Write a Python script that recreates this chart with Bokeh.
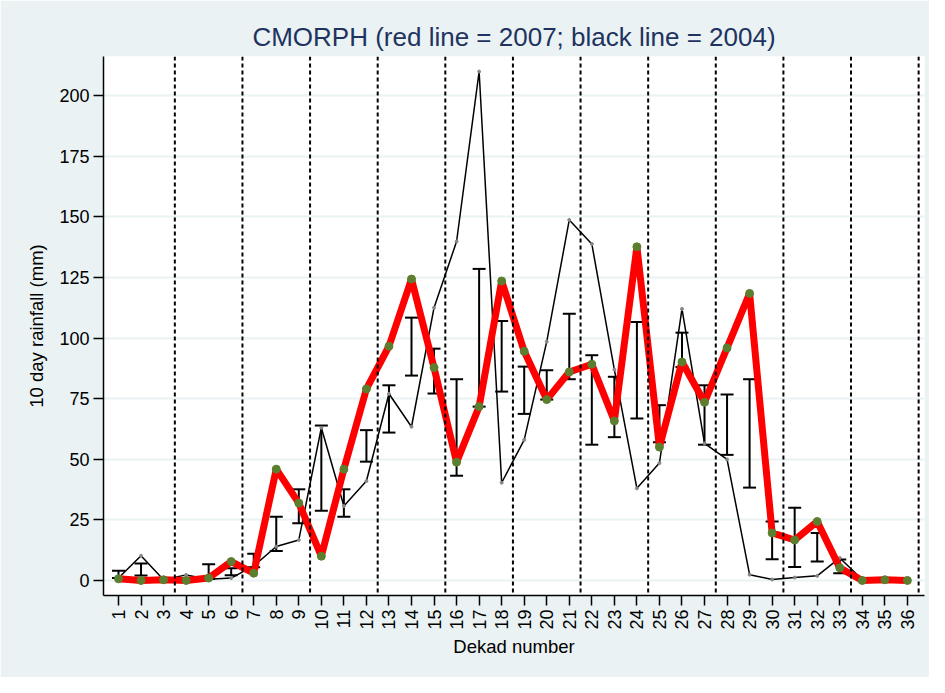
import math
from bokeh.plotting import figure
from bokeh.models import FixedTicker, Span, Whisker, ColumnDataSource, TeeHead
from bokeh.embed import file_html
from bokeh.resources import INLINE

# ---------------- data ----------------
dekad = list(range(1, 37))
x_tick_labels = [str(d) for d in dekad]
y_ticks = [0, 25, 50, 75, 100, 125, 150, 175, 200]

rain_2007 = [0.7, 0.0, 0.3, 0.0, 1.0, 7.8, 3.0, 45.9, 31.9, 10.0, 45.9, 79.0,
             96.6, 124.3, 87.8, 48.8, 71.7, 123.5, 94.5, 74.6, 86.0, 89.2, 65.8, 137.6,
             55.0, 90.1, 73.5, 95.9, 118.4, 19.6, 16.7, 24.3, 5.2, 0.0, 0.3, 0.0]

rain_2004 = [1.0, 10.2, 0.3, 2.3, 0.5, 1.0, 6.0, 14.0, 16.7, 63.0, 30.7, 41.0,
             77.0, 63.4, 112.5, 139.8, 209.9, 40.3, 58.0, 98.5, 148.7, 138.8, 87.0, 38.0,
             48.4, 112.0, 56.5, 49.9, 2.4, 0.4, 1.2, 1.9, 9.3, 0.4, 0.0, 0.0]

bar_dekad = [1, 2, 5, 6, 7, 8, 9, 10, 11, 12, 13, 14, 15, 16, 17, 18, 19, 20, 21,
             22, 23, 24, 25, 26, 27, 28, 29, 30, 31, 32, 33]
bar_upper = [4.0, 7.0, 6.7, 5.0, 11.0, 26.3, 37.6, 63.9, 37.6, 62.0, 80.5, 108.4,
             95.6, 83.0, 128.5, 107.0, 88.2, 86.7, 110.0, 92.9, 84.0, 106.6, 72.3,
             102.2, 80.5, 76.7, 83.0, 24.3, 30.0, 19.6, 8.6]
bar_lower = [1.0, 2.0, 0.7, 2.2, 5.5, 12.2, 23.6, 28.8, 26.3, 49.0, 61.0, 84.5,
             77.1, 43.2, 71.7, 77.9, 68.7, 74.6, 83.0, 56.0, 59.1, 66.8, 57.0,
             88.0, 56.0, 51.8, 38.3, 8.8, 5.6, 7.8, 3.0]

month_breaks = [3.5, 6.5, 9.5, 12.5, 15.5, 18.5, 21.5, 24.5, 27.5, 30.5, 33.5, 36.5]

title_text = "CMORPH (red line = 2007; black line = 2004)"

# ---------------- figure ----------------
BG = "#EAF2F3"
FONT = "Liberation Sans"

p = figure(width=929, height=677, output_backend="svg", toolbar_location=None,
           x_range=(0.335, 36.76), y_range=(-6.2, 216.1),
           title=title_text)
p.min_border_left = 103
p.min_border_right = 5
p.min_border_top = 56
p.min_border_bottom = 82
p.border_fill_color = BG
p.background_fill_color = "white"
p.outline_line_color = None

p.title.align = "center"
p.title.text_font = FONT
p.title.text_font_size = "26px"
p.title.text_font_style = "normal"
p.title.text_color = "#1F3360"
p.title.standoff = 9

p.xgrid.grid_line_color = None
p.ygrid.grid_line_color = BG
p.ygrid.grid_line_width = 2

for ax in (p.xaxis[0], p.yaxis[0]):
    ax.axis_line_color = "black"
    ax.axis_line_width = 1.5
    ax.major_tick_line_color = "black"
    ax.major_tick_line_width = 1.5
    ax.major_tick_out = 10
    ax.major_tick_in = 0
    ax.minor_tick_line_color = None
    ax.major_label_text_font = FONT
    ax.major_label_text_font_size = "18px"
    ax.major_label_text_color = "black"
    ax.axis_label_text_font = FONT
    ax.axis_label_text_font_size = "18.5px"
    ax.axis_label_text_font_style = "normal"
    ax.axis_label_text_color = "black"
    ax.major_label_standoff = 4

p.xaxis.ticker = FixedTicker(ticks=dekad)
p.xaxis.major_label_overrides = {d: lab for d, lab in zip(dekad, x_tick_labels)}
p.xaxis.major_label_orientation = math.pi / 2
p.xaxis.axis_label = "Dekad number"
p.xaxis.axis_label_standoff = 3

p.yaxis.ticker = FixedTicker(ticks=y_ticks)
p.yaxis.axis_label = "10 day rainfall (mm)"
p.yaxis.axis_label_standoff = 9

# month separators
for xb in month_breaks:
    p.add_layout(Span(location=xb, dimension="height", line_color="black",
                      line_width=2, line_dash="4 3"))

# error bars
src_bar = ColumnDataSource(dict(x=bar_dekad, upper=bar_upper, lower=bar_lower))
wh = Whisker(source=src_bar, base="x", upper="upper", lower="lower",
             line_color="black", line_width=2,
             upper_head=TeeHead(size=13, line_color="black", line_width=2),
             lower_head=TeeHead(size=13, line_color="black", line_width=2))
p.add_layout(wh)

# 2004 black line
p.line(dekad, rain_2004, line_color="black", line_width=1.5)
p.scatter(dekad, rain_2004, size=3, color="#888888")

# 2007 red line
p.line(dekad, rain_2007, line_color="#FF0000", line_width=7, line_join="round")
p.scatter(dekad, rain_2007, size=8, fill_color="#5B7F2F", line_color="#5B7F2F")

open("out.html", "w").write(file_html(p, INLINE))
